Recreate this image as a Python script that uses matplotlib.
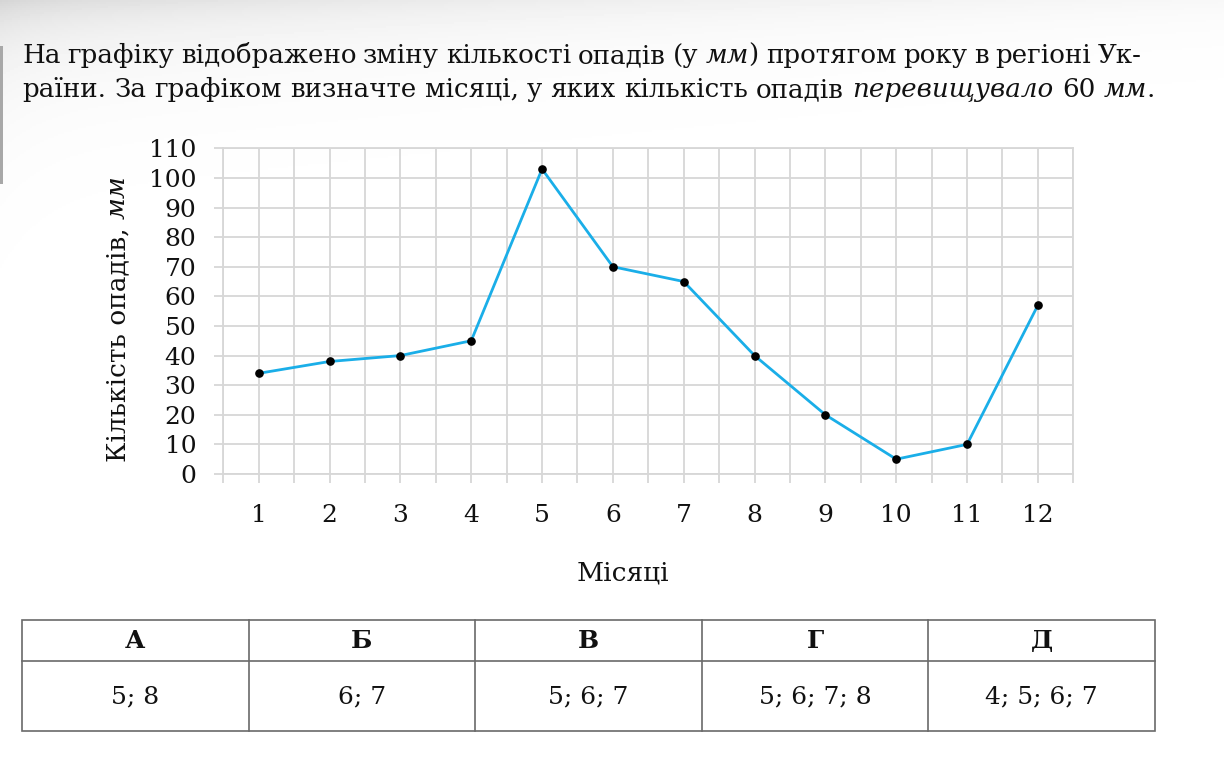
import numpy as np
import matplotlib
matplotlib.use("Agg")
import matplotlib.pyplot as plt
from matplotlib.patches import Rectangle

# ---------------- data ----------------
months = [1, 2, 3, 4, 5, 6, 7, 8, 9, 10, 11, 12]
precip = [34, 38, 40, 45, 103, 70, 65, 40, 20, 5, 10, 57]
y_ticks = list(range(0, 111, 10))
options = ["А", "Б", "В", "Г", "Д"]
answers = ["5; 8", "6; 7", "5; 6; 7", "5; 6; 7; 8", "4; 5; 6; 7"]

line1_words = [[("На", "normal")], [("графіку", "normal")], [("відображено", "normal")],
               [("зміну", "normal")], [("кількості", "normal")], [("опадів", "normal")],
               [("(у", "normal")], [("мм", "italic"), (")", "normal")], [("протягом", "normal")],
               [("року", "normal")], [("в", "normal")], [("регіоні", "normal")], [("Ук-", "normal")]]
line2_words = [[("раїни.", "normal")], [("За", "normal")], [("графіком", "normal")],
               [("визначте", "normal")], [("місяці,", "normal")], [("у", "normal")],
               [("яких", "normal")], [("кількість", "normal")], [("опадів", "normal")],
               [("перевищувало", "italic")], [("60", "normal")], [("мм", "italic"), (".", "normal")]]
ylabel_normal = "Кількість опадів,"
ylabel_italic = "мм"
xlabel = "Місяці"

# ---------------- setup ----------------
W, H, DPI = 1224, 774, 100
plt.rcParams["font.family"] = ["DejaVu Serif", "DejaVu Sans"]
TXT = "#111111"
GRID = "#d7d7d7"
LINE = "#1aaee8"

fig = plt.figure(figsize=(W / DPI, H / DPI), dpi=DPI)
fig.patch.set_facecolor("white")

# background layer (page shading + table)
bg = fig.add_axes([0, 0, 1, 1], zorder=-5)
bg.set_xlim(0, W)
bg.set_ylim(H, 0)
bg.axis("off")
yy, xx = np.mgrid[0:H:2, 0:W:2].astype(float)
dark = 0.10 * np.exp(-xx / 600.0) * np.exp(-yy / 60.0) + 0.04 * np.exp(-yy / 20.0) * (1 - xx / W * 0.6) \
       + 0.025 * np.exp(-xx / 40.0) * np.exp(-yy / 120.0)
bg.imshow(1 - dark, cmap="gray", vmin=0, vmax=1, extent=[0, W, H, 0], aspect="auto", zorder=0)
bg.add_patch(Rectangle((0, 46), 3, 138, color="#a8a8a8", lw=0, zorder=1))

# ---------------- chart ----------------
ax_left, ax_right, ax_top, ax_bottom = 223.3, 1073.3, 148.3, 474.0
ax = fig.add_axes([ax_left / W, 1 - ax_bottom / H, (ax_right - ax_left) / W, (ax_bottom - ax_top) / H])
ax.patch.set_alpha(0)
ax.set_xlim(0.5, 12.5)
ax.set_ylim(0, 110)
ax.set_xticks(months)
ax.set_xticks(np.arange(0.5, 13, 1.0), minor=True)
ax.set_yticks(y_ticks)
ax.grid(which="both", axis="x", color=GRID, lw=1.3)
ax.grid(which="major", axis="y", color=GRID, lw=1.3)
ax.set_axisbelow(True)
for sp in ax.spines.values():
    sp.set_color(GRID)
    sp.set_linewidth(1.3)
ax.tick_params(which="both", length=6.5, width=1.3, color=GRID, direction="out")
ax.tick_params(axis="x", which="major", pad=15, labelsize=18, labelcolor=TXT)
ax.tick_params(axis="y", which="major", pad=13, labelsize=18, labelcolor=TXT)

ax.plot(months, precip, color=LINE, lw=2.0, zorder=3, solid_joinstyle="miter")
ax.plot(months, precip, "o", color="black", ms=5.2, zorder=4, clip_on=False)

# ---------------- text helpers ----------------
fig.canvas.draw()
R = fig.canvas.get_renderer()


def text_w(txt, style, fs, weight="normal"):
    t = fig.text(0, 0, txt, fontsize=fs, style=style, weight=weight)
    w = t.get_window_extent(R).width
    t.remove()
    return w


def space_w(fs):
    return text_w("a a", "normal", fs) - text_w("aa", "normal", fs)


def line_width(words, fs):
    tot = sum(text_w(t, s, fs) for word in words for t, s in word)
    return tot + space_w(fs) * (len(words) - 1)


def place_line(words, x0, base, fs, target=None):
    ws = [[text_w(t, s, fs) for t, s in word] for word in words]
    tot = sum(sum(w) for w in ws)
    gap = (target - tot) / (len(words) - 1) if target else space_w(fs)
    x = x0
    for word, wl in zip(words, ws):
        for (t, s), w in zip(word, wl):
            fig.text(x / W, 1 - base / H, t, fontsize=fs, style=s, va="baseline", ha="left", color=TXT)
            x += w
        x += gap


# title
fs_title = 18.0 * 1133.0 / line_width(line2_words, 18.0)
fs_title = min(max(fs_title, 15.0), 20.0)
place_line(line1_words, 22, 63, fs_title, target=1120)
place_line(line2_words, 22, 97, fs_title)

# y label (rotated, mixed styles)
fs_lab = 19
w1 = text_w(ylabel_normal, "normal", fs_lab) + space_w(fs_lab)
y_start = 462
fig.text(125 / W, 1 - y_start / H, ylabel_normal, fontsize=fs_lab, rotation=90,
         rotation_mode="anchor", ha="left", va="baseline", color=TXT)
fig.text(125 / W, 1 - (y_start - w1) / H, ylabel_italic, fontsize=fs_lab, style="italic", rotation=90,
         rotation_mode="anchor", ha="left", va="baseline", color=TXT)

# x label
fig.text(623 / W, 1 - 580 / H, xlabel, fontsize=fs_lab, ha="center", va="baseline", color=TXT)

# ---------------- answer table ----------------
t_left, t_right, t_top, t_mid, t_bot = 22, 1155, 620, 661, 731
ncol = len(options)
cw = (t_right - t_left) / ncol
TBL = "#6a6a6a"
bg.add_patch(Rectangle((t_left, t_top), t_right - t_left, t_bot - t_top, fill=False, ec=TBL, lw=1.2, zorder=2))
bg.plot([t_left, t_right], [t_mid, t_mid], color=TBL, lw=1.2, zorder=2)
for i in range(1, ncol):
    bg.plot([t_left + i * cw] * 2, [t_top, t_bot], color=TBL, lw=1.2, zorder=2)
for i, (o, a) in enumerate(zip(options, answers)):
    cx = t_left + (i + 0.5) * cw
    bg.text(cx, (t_top + t_mid) / 2 + 1, o, fontsize=18, weight="bold", ha="center", va="center", color=TXT, zorder=3)
    bg.text(cx, (t_mid + t_bot) / 2 + 1, a, fontsize=18, ha="center", va="center", color=TXT, zorder=3)

fig.savefig("out.png", dpi=DPI, facecolor="white")
